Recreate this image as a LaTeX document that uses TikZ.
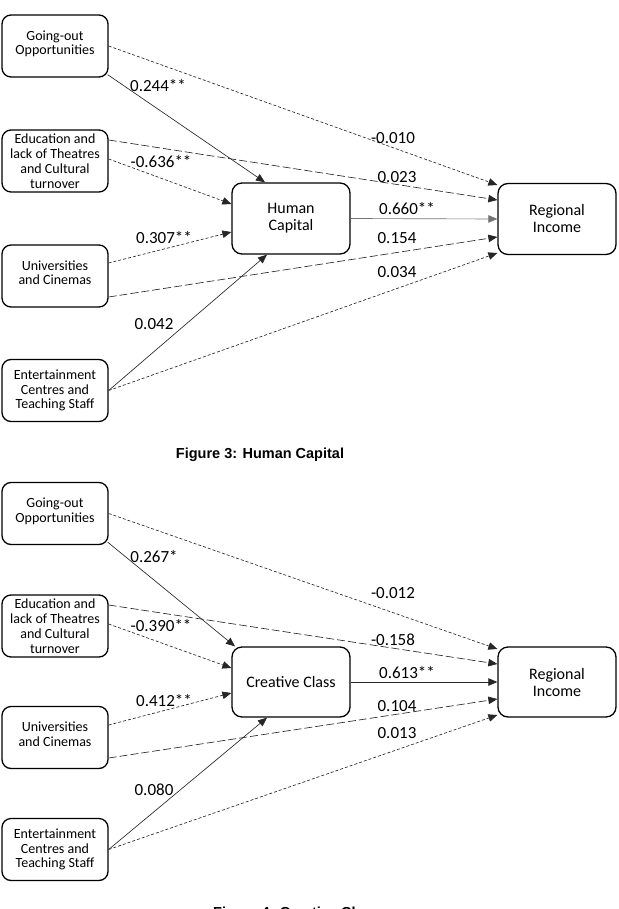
\documentclass[tikz,border=0pt]{standalone}
\usepackage{fontspec}
\setmainfont{Carlito}
\newfontfamily\capfont{Liberation Sans}
\usetikzlibrary{arrows.meta}

\begin{document}
\begin{tikzpicture}[x=1pt, y=-1pt,
    factor/.style={draw, line width=1.3pt, rounded corners=9pt, minimum width=106pt, minimum height=62pt, align=center, inner sep=1pt, font=\fontsize{14}{14.8}\selectfont},
    target/.style={draw, line width=1.3pt, rounded corners=10pt, minimum width=118pt, minimum height=71pt, align=center, font=\fontsize{16}{17}\selectfont},
    link/.style={line width=0.65pt, draw=black!85, -{Triangle[length=9pt,width=7.5pt]}},
    fine/.style={link, dash pattern=on 3pt off 2pt},
    coarse/.style={link, dash pattern=on 8pt off 3pt},
    coef/.style={inner sep=0pt, font=\fontsize{17}{18}\selectfont},
    caption/.style={inner sep=0pt, font=\capfont\bfseries\fontsize{14.5}{16}\selectfont}]

    \useasboundingbox (0,0) rectangle (618,909);

    % Draw boxes of Figure 3
    \node[factor] (go1) at (55,46) {Going-out\\Opportunities\\[-8pt]};
    \node[factor] (ed1) at (55,161) {Education and\\lack of Theatres\\and Cultural\\turnover};
    \node[factor] (un1) at (55,276) {Universities\\and Cinemas\\[-8pt]};
    \node[factor] (en1) at (55,390.5) {Entertainment\\Centres and\\Teaching Staff};
    \node[target] (hc) at (291,218.5) {Human\\Capital};
    \node[target] (ri1) at (557,219) {Regional\\Income};

    % Draw paths of Figure 3
    \draw[link] ([shift={(-1pt,3pt)}]go1.south east) -- ([xshift=-26pt]hc.north);
    \draw[fine] (go1.east) -- ([yshift=34pt]ri1.west);
    \draw[coarse] ([yshift=21pt]ed1.east) -- ([yshift=19pt]ri1.west);
    \draw[fine] ([yshift=2pt]ed1.east) -- ([yshift=14.5pt]hc.west);
    \draw[link, draw=black!55] (hc.east) -- (ri1.west);
    \draw[fine] ([yshift=13pt]un1.east) -- ([yshift=-13.5pt]hc.west);
    \draw[coarse] ([yshift=-21pt]un1.east) -- ([yshift=-18pt]ri1.west);
    \draw[link] (en1.east) -- ([xshift=-24pt]hc.south);
    \draw[fine] (en1.east) -- ([yshift=-34pt]ri1.west);

    % Label coefficients of Figure 3
    \node[coef] (c11) at (158,86) {0.244**};
    \node[coef] (c12) at (161,162) {-0.636**};
    \node[coef] (c13) at (164,238) {0.307**};
    \node[coef] (c14) at (154,324) {0.042};
    \node[coef] (c15) at (393,138) {-0.010};
    \node[coef] (c16) at (397,177) {0.023};
    \node[coef] (c17) at (407,209) {0.660**};
    \node[coef] (c18) at (397,238) {0.154};
    \node[coef] (c19) at (397,272) {0.034};

    \node[caption] (cap1) at (260,455) {Figure 3: Human Capital};

    % Draw boxes of Figure 4
    \node[factor] (go2) at (55,513.5) {Going-out\\Opportunities\\[-8pt]};
    \node[factor] (ed2) at (55,626) {Education and\\lack of Theatres\\and Cultural\\turnover};
    \node[factor] (un2) at (55,737.5) {Universities\\and Cinemas\\[-8pt]};
    \node[factor] (en2) at (55,849.5) {Entertainment\\Centres and\\Teaching Staff};
    \node[target, minimum height=70pt] (cc) at (291,682) {Creative Class};
    \node[target, minimum height=70pt] (ri2) at (557,682) {Regional\\Income};

    % Draw paths of Figure 4
    \draw[link] ([shift={(-1pt,3pt)}]go2.south east) -- ([xshift=-56pt]cc.north);
    \draw[fine] (go2.east) -- ([yshift=33pt]ri2.west);
    \draw[coarse] ([yshift=21pt]ed2.east) -- ([yshift=18pt]ri2.west);
    \draw[fine] ([yshift=2pt]ed2.east) -- ([yshift=14pt]cc.west);
    \draw[link] (cc.east) -- (ri2.west);
    \draw[fine] ([yshift=12.5pt]un2.east) -- ([yshift=-11pt]cc.west);
    \draw[coarse] ([yshift=-20.5pt]un2.east) -- ([yshift=-17pt]ri2.west);
    \draw[link] (en2.east) -- ([xshift=-24pt]cc.south);
    \draw[fine] (en2.east) -- ([yshift=-33pt]ri2.west);

    % Label coefficients of Figure 4
    \node[coef] (c21) at (154,557) {0.267*};
    \node[coef] (c22) at (161,626) {-0.390**};
    \node[coef] (c23) at (164,701) {0.412**};
    \node[coef] (c24) at (154,790) {0.080};
    \node[coef] (c25) at (393,593) {-0.012};
    \node[coef] (c26) at (393,640) {-0.158};
    \node[coef] (c27) at (407,673) {0.613**};
    \node[coef] (c28) at (397,706) {0.104};
    \node[coef] (c29) at (397,733) {0.013};

    \node[caption, anchor=base west] (cap2) at (213,917.5) {Figure 4: Creative Class};

\end{tikzpicture}
\end{document}
